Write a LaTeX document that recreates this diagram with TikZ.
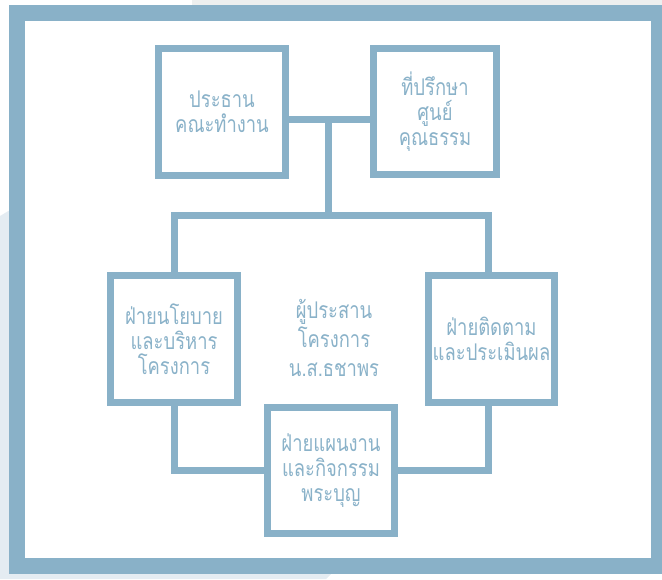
\documentclass[tikz,border=0pt]{standalone}
\usepackage{fontspec}
\usepackage{xcolor}
\usepackage{tikz}
\newfontfamily\thaifont[Script=Thai,FakeStretch=0.8]{Loma}
\definecolor{frameblue}{HTML}{89B1C8}
\definecolor{textblue}{HTML}{8AB2C9}
\definecolor{paleblue}{HTML}{E4ECF2}
\definecolor{palegray}{HTML}{EDEFEF}

\begin{document}
\begin{tikzpicture}[x=1pt,y=-1pt,line join=miter,
  unit/.style={draw=frameblue,line width=7pt,fill=white,outer sep=0pt,
    minimum width=127pt,minimum height=127pt,inner sep=0pt,
    align=center,text=textblue,font=\thaifont\fontsize{23}{25}\selectfont},
  link/.style={draw=frameblue,line width=7pt}]
  \useasboundingbox (0,0) rectangle (662,579);
  \clip (0,0) rectangle (662,579);
% background pieces behind the frame
  \fill[palegray] (192,0) rectangle (662,12);
  \fill[paleblue] (0,216) -- (20,204) -- (345,560) -- (326,579) -- (0,579) -- cycle;
  \draw[draw=frameblue,line width=16pt,fill=white] (17,13) rectangle (659,566);
% joints of the connectors
  \coordinate (hub) at (328.5,119);
  \coordinate (bar) at (328.5,215.5);
  \coordinate (rdrop) at (488,215.5);
% units
  \node[unit] (chair) at (222,112) {ประธาน\\คณะทำงาน};
  \node[unit,minimum width=123pt,minimum height=126pt] (advisor) at (435,111.5) {ที่ปรึกษา\\ศูนย์\\คุณธรรม};
  \node[unit] (policy) at (174,339) {ฝ่ายนโยบาย\\และบริหาร\\โครงการ};
  \node[unit,minimum width=126pt] (monitor) at (491.5,339) {ฝ่ายติดตาม\\และประเมินผล};
  \node[unit,minimum height=126pt] (plan) at (331,470.5) {ฝ่ายแผนงาน\\และกิจกรรม\\พระบุญ};
  \node[align=center,text=textblue,font=\thaifont\fontsize{23}{29}\selectfont] (coord) at (334,338) {ผู้ประสาน\\โครงการ\\น.ส.ธชาพร};
% connectors
  \draw[link] (hub -| chair.east) -- (hub -| advisor.west);
  \draw[link] (hub) -- (bar);
  \draw[link] (policy.north) |- (bar) -| (monitor.north -| rdrop);
  \draw[link] (policy.south) |- (plan.west);
  \draw[link] (monitor.south -| rdrop) |- (plan.east);
% boxes again on top of the line ends
  \foreach \n in {chair,advisor,policy,monitor,plan}
    \draw[draw=frameblue,line width=7pt] (\n.north west) rectangle (\n.south east);
\end{tikzpicture}
\end{document}
